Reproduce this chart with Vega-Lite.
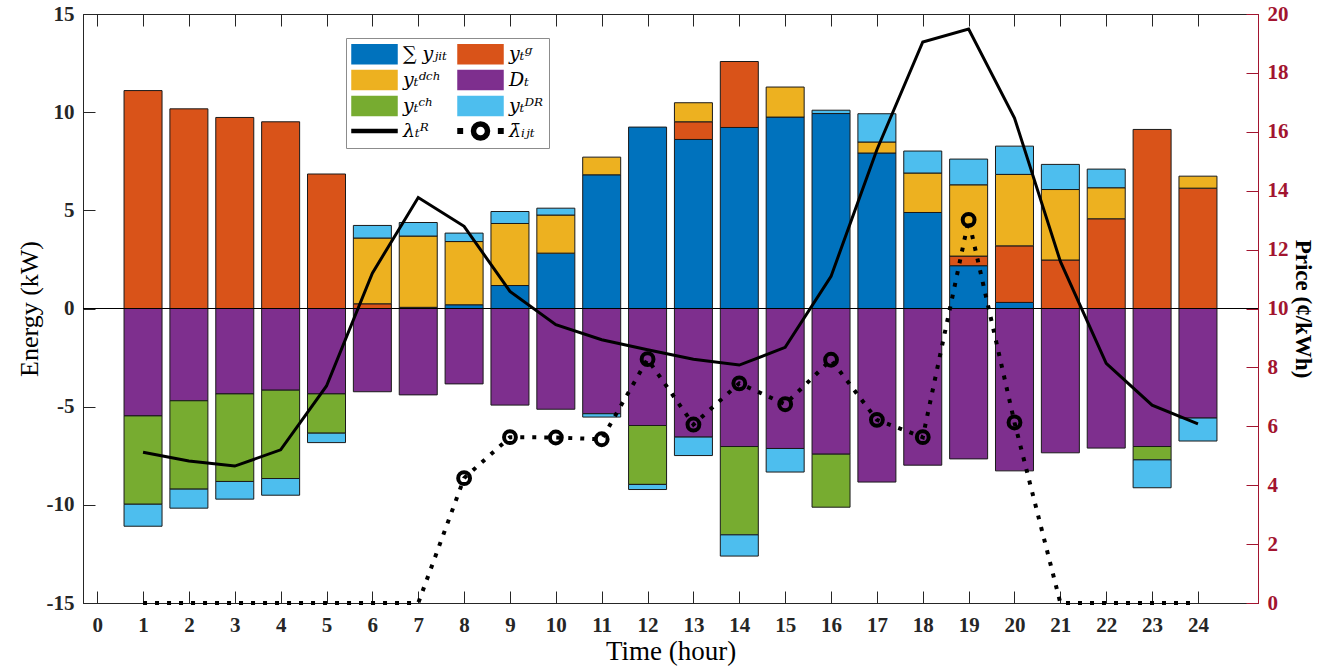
{
  "$schema": "https://vega.github.io/schema/vega-lite/v6.json",
  "width": 1175,
  "height": 589,
  "autosize": {"type": "none"},
  "padding": {"left": 83, "top": 14, "right": 75, "bottom": 68},
  "background": "white",
  "config": {
    "view": {"stroke": "#262626", "strokeWidth": 1},
    "font": "Liberation Serif",
    "axis": {"grid": false}
  },
  "datasets": {
    "energy": [
      {"hour": 1, "series": "b_g", "value": 11.1}, {"hour": 1, "series": "d_D", "value": -5.47}, {"hour": 1, "series": "e_ch", "value": -4.5}, {"hour": 1, "series": "f_DR", "value": -1.12},
      {"hour": 2, "series": "b_g", "value": 10.17}, {"hour": 2, "series": "d_D", "value": -4.7}, {"hour": 2, "series": "e_ch", "value": -4.5}, {"hour": 2, "series": "f_DR", "value": -0.97},
      {"hour": 3, "series": "b_g", "value": 9.73}, {"hour": 3, "series": "d_D", "value": -4.35}, {"hour": 3, "series": "e_ch", "value": -4.46}, {"hour": 3, "series": "f_DR", "value": -0.9},
      {"hour": 4, "series": "b_g", "value": 9.51}, {"hour": 4, "series": "d_D", "value": -4.16}, {"hour": 4, "series": "e_ch", "value": -4.5}, {"hour": 4, "series": "f_DR", "value": -0.85},
      {"hour": 5, "series": "b_g", "value": 6.85}, {"hour": 5, "series": "d_D", "value": -4.35}, {"hour": 5, "series": "e_ch", "value": -2.0}, {"hour": 5, "series": "f_DR", "value": -0.48},
      {"hour": 6, "series": "b_g", "value": 0.24}, {"hour": 6, "series": "c_dch", "value": 3.35}, {"hour": 6, "series": "f_DR", "value": 0.64}, {"hour": 6, "series": "d_D", "value": -4.24},
      {"hour": 7, "series": "a_sum", "value": 0.06}, {"hour": 7, "series": "c_dch", "value": 3.63}, {"hour": 7, "series": "f_DR", "value": 0.69}, {"hour": 7, "series": "d_D", "value": -4.4},
      {"hour": 8, "series": "a_sum", "value": 0.19}, {"hour": 8, "series": "c_dch", "value": 3.22}, {"hour": 8, "series": "f_DR", "value": 0.43}, {"hour": 8, "series": "d_D", "value": -3.84},
      {"hour": 9, "series": "a_sum", "value": 1.17}, {"hour": 9, "series": "c_dch", "value": 3.16}, {"hour": 9, "series": "f_DR", "value": 0.61}, {"hour": 9, "series": "d_D", "value": -4.92},
      {"hour": 10, "series": "a_sum", "value": 2.82}, {"hour": 10, "series": "c_dch", "value": 1.94}, {"hour": 10, "series": "f_DR", "value": 0.35}, {"hour": 10, "series": "d_D", "value": -5.13},
      {"hour": 11, "series": "a_sum", "value": 6.81}, {"hour": 11, "series": "c_dch", "value": 0.9}, {"hour": 11, "series": "d_D", "value": -5.36}, {"hour": 11, "series": "f_DR", "value": -0.17},
      {"hour": 12, "series": "a_sum", "value": 9.24}, {"hour": 12, "series": "d_D", "value": -5.96}, {"hour": 12, "series": "e_ch", "value": -3.0}, {"hour": 12, "series": "f_DR", "value": -0.26},
      {"hour": 13, "series": "a_sum", "value": 8.61}, {"hour": 13, "series": "b_g", "value": 0.9}, {"hour": 13, "series": "c_dch", "value": 0.97}, {"hour": 13, "series": "d_D", "value": -6.55}, {"hour": 13, "series": "f_DR", "value": -0.94},
      {"hour": 14, "series": "a_sum", "value": 9.22}, {"hour": 14, "series": "b_g", "value": 3.36}, {"hour": 14, "series": "d_D", "value": -7.03}, {"hour": 14, "series": "e_ch", "value": -4.5}, {"hour": 14, "series": "f_DR", "value": -1.08},
      {"hour": 15, "series": "a_sum", "value": 9.75}, {"hour": 15, "series": "c_dch", "value": 1.53}, {"hour": 15, "series": "d_D", "value": -7.13}, {"hour": 15, "series": "f_DR", "value": -1.2},
      {"hour": 16, "series": "a_sum", "value": 9.93}, {"hour": 16, "series": "f_DR", "value": 0.17}, {"hour": 16, "series": "d_D", "value": -7.42}, {"hour": 16, "series": "e_ch", "value": -2.7},
      {"hour": 17, "series": "a_sum", "value": 7.92}, {"hour": 17, "series": "c_dch", "value": 0.56}, {"hour": 17, "series": "f_DR", "value": 1.44}, {"hour": 17, "series": "d_D", "value": -8.84},
      {"hour": 18, "series": "a_sum", "value": 4.89}, {"hour": 18, "series": "c_dch", "value": 2.01}, {"hour": 18, "series": "f_DR", "value": 1.12}, {"hour": 18, "series": "d_D", "value": -7.98},
      {"hour": 19, "series": "a_sum", "value": 2.18}, {"hour": 19, "series": "b_g", "value": 0.49}, {"hour": 19, "series": "c_dch", "value": 3.63}, {"hour": 19, "series": "f_DR", "value": 1.31}, {"hour": 19, "series": "d_D", "value": -7.66},
      {"hour": 20, "series": "a_sum", "value": 0.31}, {"hour": 20, "series": "b_g", "value": 2.88}, {"hour": 20, "series": "c_dch", "value": 3.64}, {"hour": 20, "series": "f_DR", "value": 1.44}, {"hour": 20, "series": "d_D", "value": -8.27},
      {"hour": 21, "series": "b_g", "value": 2.47}, {"hour": 21, "series": "c_dch", "value": 3.59}, {"hour": 21, "series": "f_DR", "value": 1.28}, {"hour": 21, "series": "d_D", "value": -7.35},
      {"hour": 22, "series": "b_g", "value": 4.57}, {"hour": 22, "series": "c_dch", "value": 1.58}, {"hour": 22, "series": "f_DR", "value": 0.95}, {"hour": 22, "series": "d_D", "value": -7.11},
      {"hour": 23, "series": "b_g", "value": 9.12}, {"hour": 23, "series": "d_D", "value": -7.03}, {"hour": 23, "series": "e_ch", "value": -0.68}, {"hour": 23, "series": "f_DR", "value": -1.42},
      {"hour": 24, "series": "b_g", "value": 6.13}, {"hour": 24, "series": "c_dch", "value": 0.61}, {"hour": 24, "series": "d_D", "value": -5.58}, {"hour": 24, "series": "f_DR", "value": -1.17}
    ],
    "price": [
      {"hour": 1, "series": "g_LR", "price": 5.12}, {"hour": 2, "series": "g_LR", "price": 4.82}, {"hour": 3, "series": "g_LR", "price": 4.65}, {"hour": 4, "series": "g_LR", "price": 5.2},
      {"hour": 5, "series": "g_LR", "price": 7.37}, {"hour": 6, "series": "g_LR", "price": 11.2}, {"hour": 7, "series": "g_LR", "price": 13.77}, {"hour": 8, "series": "g_LR", "price": 12.79},
      {"hour": 9, "series": "g_LR", "price": 10.58}, {"hour": 10, "series": "g_LR", "price": 9.45}, {"hour": 11, "series": "g_LR", "price": 8.94}, {"hour": 12, "series": "g_LR", "price": 8.6},
      {"hour": 13, "series": "g_LR", "price": 8.28}, {"hour": 14, "series": "g_LR", "price": 8.08}, {"hour": 15, "series": "g_LR", "price": 8.68}, {"hour": 16, "series": "g_LR", "price": 11.09},
      {"hour": 17, "series": "g_LR", "price": 15.39}, {"hour": 18, "series": "g_LR", "price": 19.05}, {"hour": 19, "series": "g_LR", "price": 19.49}, {"hour": 20, "series": "g_LR", "price": 16.47},
      {"hour": 21, "series": "g_LR", "price": 11.6}, {"hour": 22, "series": "g_LR", "price": 8.14}, {"hour": 23, "series": "g_LR", "price": 6.72}, {"hour": 24, "series": "g_LR", "price": 6.08},
      {"hour": 1, "series": "h_LB", "price": 0}, {"hour": 2, "series": "h_LB", "price": 0}, {"hour": 3, "series": "h_LB", "price": 0}, {"hour": 4, "series": "h_LB", "price": 0},
      {"hour": 5, "series": "h_LB", "price": 0}, {"hour": 6, "series": "h_LB", "price": 0}, {"hour": 7, "series": "h_LB", "price": 0}, {"hour": 8, "series": "h_LB", "price": 4.24},
      {"hour": 9, "series": "h_LB", "price": 5.63}, {"hour": 10, "series": "h_LB", "price": 5.62}, {"hour": 11, "series": "h_LB", "price": 5.56}, {"hour": 12, "series": "h_LB", "price": 8.28},
      {"hour": 13, "series": "h_LB", "price": 6.06}, {"hour": 14, "series": "h_LB", "price": 7.46}, {"hour": 15, "series": "h_LB", "price": 6.75}, {"hour": 16, "series": "h_LB", "price": 8.26},
      {"hour": 17, "series": "h_LB", "price": 6.22}, {"hour": 18, "series": "h_LB", "price": 5.63}, {"hour": 19, "series": "h_LB", "price": 13.01}, {"hour": 20, "series": "h_LB", "price": 6.13},
      {"hour": 21, "series": "h_LB", "price": 0}, {"hour": 22, "series": "h_LB", "price": 0}, {"hour": 23, "series": "h_LB", "price": 0}, {"hour": 24, "series": "h_LB", "price": 0}
    ]
  },
  "layer": [
    {
      "data": {"name": "energy"},
      "layer": [
        {
          "mark": {"type": "bar", "size": 38, "stroke": "#1a1a1a", "strokeWidth": 1},
          "encoding": {
            "x": {
              "field": "hour", "type": "quantitative",
              "scale": {"domain": [-0.2, 25.2], "nice": false, "zero": false},
              "axis": {
                "orient": "bottom",
                "values": [0, 1, 2, 3, 4, 5, 6, 7, 8, 9, 10, 11, 12, 13, 14, 15, 16, 17, 18, 19, 20, 21, 22, 23, 24],
                "format": "d",
                "labelFont": "Liberation Serif", "labelFontWeight": "bold", "labelFontSize": 21, "labelColor": "#262626",
                "tickSize": -12, "tickColor": "#262626", "domainColor": "#262626", "labelPadding": 23,
                "title": "Time (hour)", "titleFont": "Liberation Serif", "titleFontWeight": "normal", "titleFontSize": 27,
                "titleColor": "black", "titlePadding": 3
              }
            },
            "y": {
              "field": "value", "type": "quantitative",
              "scale": {"domain": [-15, 15], "nice": false},
              "axis": {
                "orient": "left",
                "values": [-15, -10, -5, 0, 5, 10, 15],
                "labelExpr": "'' + datum.value",
                "labelFont": "Liberation Serif", "labelFontWeight": "bold", "labelFontSize": 21, "labelColor": "#262626",
                "tickSize": -12, "tickColor": "#262626", "domainColor": "#262626", "labelPadding": 21,
                "title": "Energy (kW)", "titleFont": "Liberation Serif", "titleFontWeight": "normal", "titleFontSize": 26,
                "titleColor": "black", "titlePadding": 4
              }
            },
            "order": {"field": "series", "type": "ordinal", "sort": "ascending"},
            "color": {
              "field": "series", "type": "nominal",
              "scale": {
                "domain": ["a_sum", "b_g", "c_dch", "d_D", "e_ch", "f_DR", "g_LR", "h_LB"],
                "range": ["#0072BD", "#D95319", "#EDB120", "#7E2F8E", "#77AC30", "#4DBEEE", "#000000", "#000000"]
              },
              "legend": {
                "orient": "none", "legendX": 263, "legendY": 24, "columns": 2, "direction": "horizontal", "title": null,
                "symbolSize": 400,
                "labelFont": "DejaVu Serif", "labelFontStyle": "italic", "labelFontSize": 19, "labelColor": "black",
                "labelOffset": 30,
                "labelExpr": "datum.label=='a_sum' ? '∑ yⱼᵢₜ' : datum.label=='b_g' ? 'yₜᵍ' : datum.label=='c_dch' ? 'yₜᵈᶜʰ' : datum.label=='d_D' ? 'Dₜ' : datum.label=='e_ch' ? 'yₜᶜʰ' : datum.label=='f_DR' ? 'yₜᴰᴿ' : datum.label=='g_LR' ? 'λₜᴿ' : 'λ̄ᵢⱼₜ'",
                "strokeColor": "#8c8c8c", "fillColor": "white", "padding": 5, "columnPadding": 8, "rowPadding": 0,
                "encode": {
                  "symbols": {
                    "strokeWidth": {"value": {"expr": "datum.value=='g_LR' || datum.value=='h_LB' ? 0 : 1"}},
                    "stroke": {"value": "black"},
                    "opacity": {"value": 1},
                    "fillOpacity": {"value": 1}
                  }
                }
              }
            }
          }
        },
        {
          "mark": {"type": "rule", "color": "black", "strokeWidth": 1},
          "encoding": {"y": {"datum": 0}}
        }
      ]
    },
    {
      "data": {"name": "price"},
      "layer": [
        {
          "transform": [{"filter": "datum.series=='g_LR'"}],
          "mark": {"type": "line", "strokeWidth": 3},
          "encoding": {
            "x": {
              "field": "hour", "type": "quantitative",
              "scale": {"domain": [-0.2, 25.2], "nice": false, "zero": false},
              "axis": {"orient": "top", "values": [0, 1, 2, 3, 4, 5, 6, 7, 8, 9, 10, 11, 12, 13, 14, 15, 16, 17, 18, 19, 20, 21, 22, 23, 24], "labels": false, "domain": false, "tickSize": -12, "tickColor": "#262626", "title": null}
            },
            "y": {
              "field": "price", "type": "quantitative",
              "scale": {"domain": [0, 20], "nice": false},
              "axis": {
                "orient": "right", "values": [0, 2, 4, 6, 8, 10, 12, 14, 16, 18, 20],
                "labelFont": "Liberation Serif", "labelFontWeight": "bold", "labelFontSize": 21, "labelColor": "#A2142F",
                "tickSize": -12, "tickColor": "#A2142F", "domainColor": "#A2142F", "labelPadding": 21,
                "title": "Price (¢/kWh)", "titleFont": "Liberation Serif", "titleFontWeight": "bold", "titleFontSize": 23,
                "titleColor": "black", "titlePadding": 2
              }
            },
            "color": {"field": "series", "type": "nominal"}
          }
        },
        {
          "transform": [{"filter": "datum.series=='h_LB'"}],
          "mark": {"type": "line", "strokeWidth": 4, "strokeDash": [4, 8], "strokeCap": "butt"},
          "encoding": {
            "x": {"field": "hour", "type": "quantitative"},
            "y": {"field": "price", "type": "quantitative"},
            "color": {"field": "series", "type": "nominal"}
          }
        },
        {
          "transform": [{"filter": "datum.series=='h_LB' && datum.price > 0"}],
          "mark": {"type": "point", "shape": "circle", "filled": false, "size": 140, "stroke": "black", "strokeWidth": 4, "opacity": 1},
          "encoding": {
            "x": {"field": "hour", "type": "quantitative"},
            "y": {"field": "price", "type": "quantitative"}
          }
        },
        {
          "transform": [{"filter": "datum.hour > 100"}],
          "mark": {"type": "point", "filled": true},
          "encoding": {
            "x": {"field": "hour", "type": "quantitative"},
            "y": {"field": "price", "type": "quantitative"},
            "shape": {
              "field": "series", "type": "nominal",
              "scale": {
                "domain": ["a_sum", "b_g", "c_dch", "d_D", "e_ch", "f_DR", "g_LR", "h_LB"],
                "range": [
                  "M-1,-0.95H3.5V0.95H-1Z", "M-1,-0.95H3.5V0.95H-1Z", "M-1,-0.95H3.5V0.95H-1Z", "M-1,-0.95H3.5V0.95H-1Z",
                  "M-1,-0.95H3.5V0.95H-1Z", "M-1,-0.95H3.5V0.95H-1Z",
                  "M-1,-0.15H3.5V0.15H-1Z",
                  "M-1,-0.22H-0.56V0.22H-1Z M3.06,-0.22H3.5V0.22H3.06Z M2.15,0A0.9,0.9 0 1 1 0.35,0A0.9,0.9 0 1 1 2.15,0Z M1.75,0A0.5,0.5 0 1 0 0.75,0A0.5,0.5 0 1 0 1.75,0Z"
                ]
              }
            }
          }
        }
      ]
    }
  ],
  "resolve": {"scale": {"y": "independent"}, "axis": {"x": "independent", "y": "independent"}}
}
